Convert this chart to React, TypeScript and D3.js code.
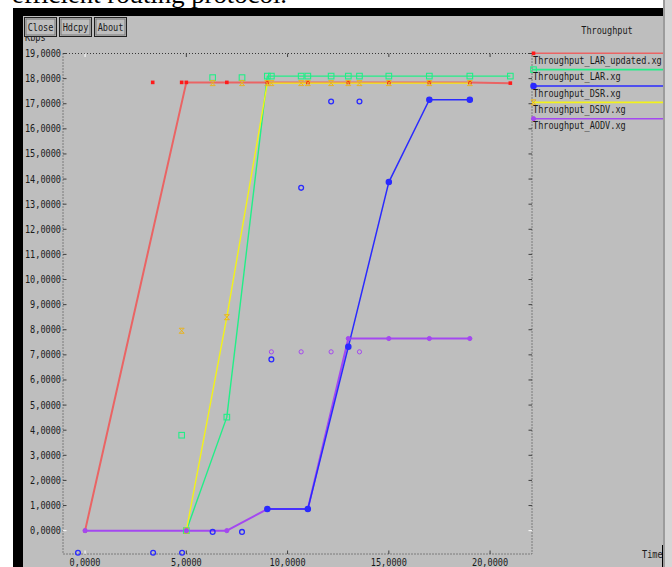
import React from "react";
import * as d3 from "d3";

// ---- data ----
const larUpdatedT = [0, 5, 7, 9, 11, 13, 15, 17, 19, 21];
const larUpdatedV = [0, 17.85, 17.85, 17.85, 17.85, 17.85, 17.85, 17.85, 17.85, 17.82];
const larUpdatedExtraT = [3.34, 4.77];
const larUpdatedExtraV = [17.85, 17.85];

const larT = [5, 7, 9, 9.2, 10.67, 11, 12.15, 13, 13.55, 15, 17, 19, 21];
const larV = [0, 4.52, 18.1, 18.1, 18.1, 18.1, 18.1, 18.1, 18.1, 18.1, 18.1, 18.1, 18.1];
const larExtraT = [4.77, 6.3, 7.75];
const larExtraV = [3.8, 18.04, 18.04];

const dsrT = [9, 11, 13, 15, 17, 19];
const dsrV = [0.86, 0.86, 7.32, 13.88, 17.16, 17.16];
const dsrExtraT = [-0.35, 3.36, 4.79, 6.3, 7.75, 9.2, 10.67, 12.15, 13.55];
const dsrExtraV = [-0.88, -0.88, -0.88, -0.05, -0.05, 6.82, 13.65, 17.09, 17.09];

const dsdvT = [5, 7, 9, 9.2, 10.67, 11, 12.15, 13, 13.55, 15, 17, 19];
const dsdvV = [0, 8.5, 17.82, 17.82, 17.82, 17.82, 17.82, 17.82, 17.82, 17.82, 17.82, 17.82];
const dsdvExtraT = [4.77, 6.3, 7.75];
const dsdvExtraV = [7.96, 17.82, 17.82];

const aodvT = [0, 5, 7, 9, 11, 13, 15, 17, 19];
const aodvV = [0, 0, 0, 0.86, 0.86, 7.65, 7.65, 7.65, 7.65];
const aodvExtraT = [9.2, 10.67, 12.15, 13.55];
const aodvExtraV = [7.12, 7.12, 7.12, 7.12];

const seriesNames = [
  "Throughput_LAR_updated.xg",
  "Throughput_LAR.xg",
  "Throughput_DSR.xg",
  "Throughput_DSDV.xg",
  "Throughput_AODV.xg",
];

const yTickValues = [0, 1, 2, 3, 4, 5, 6, 7, 8, 9, 10, 11, 12, 13, 14, 15, 16, 17, 18, 19];
const xTickValues = [0, 5, 10, 15, 20];

const buttonLabels = ["Close", "Hdcpy", "About"];
const titleText = "Throughput";
const yUnitText = "Kbps";
const xUnitText = "Time";
const captionText = "efficient routing protocol.";

// ---- styles ----
type Marker = "dot" | "square" | "circle" | "hourglass" | "small";
interface Series {
  name: string;
  t: number[];
  v: number[];
  et: number[];
  ev: number[];
  line: string;
  mark: string;
  width: number;
  marker: Marker;
}

const series: Series[] = [
  { name: seriesNames[0], t: larUpdatedT, v: larUpdatedV, et: larUpdatedExtraT, ev: larUpdatedExtraV, line: "#ea6464", mark: "#ff1a1a", width: 2, marker: "dot" },
  { name: seriesNames[1], t: larT, v: larV, et: larExtraT, ev: larExtraV, line: "#22ee88", mark: "#22ee88", width: 1.4, marker: "square" },
  { name: seriesNames[3], t: dsdvT, v: dsdvV, et: dsdvExtraT, ev: dsdvExtraV, line: "#f2f21a", mark: "#e8b420", width: 1.4, marker: "hourglass" },
  { name: seriesNames[4], t: aodvT, v: aodvV, et: aodvExtraT, ev: aodvExtraV, line: "#a448f0", mark: "#a448f0", width: 2, marker: "small" },
  { name: seriesNames[2], t: dsrT, v: dsrV, et: dsrExtraT, ev: dsrExtraV, line: "#2a2aff", mark: "#2a2aff", width: 1.5, marker: "circle" },
];

const legendOrder = [0, 1, 4, 2, 3];

const FONT = "'DejaVu Sans Mono', monospace";
const CW = 5.15;
const fmt = (n: number) => d3.format(".4f")(n).replace(".", ",");

function MarkerShape({ kind, x, y, color, hollow }: { kind: Marker; x: number; y: number; color: string; hollow?: boolean }) {
  if (kind === "dot") return <rect x={x - 1.8} y={y - 1.8} width={3.6} height={3.6} fill={color} />;
  if (kind === "square") return <rect x={x - 2.8} y={y - 2.8} width={5.6} height={5.6} fill="none" stroke={color} strokeWidth={1.1} />;
  if (kind === "circle")
    return <circle cx={x} cy={y} r={hollow ? 2.4 : 2.6} fill={hollow ? "none" : color} stroke={color} strokeWidth={1.3} />;
  if (kind === "hourglass")
    return (
      <path
        d={`M${x - 2.5},${y - 2.5}L${x + 2.5},${y - 2.5}L${x - 2.5},${y + 2.5}L${x + 2.5},${y + 2.5}Z`}
        fill="none"
        stroke={color}
        strokeWidth={1}
      />
    );
  return <circle cx={x} cy={y} r={2.1} fill={hollow ? "none" : color} stroke={color} strokeWidth={1} />;
}

function Txt(props: { x: number; y: number; s: string; anchor?: string; size?: number; fill?: string }) {
  const size = props.size ?? 10;
  return (
    <text
      x={props.x}
      y={props.y}
      textAnchor={props.anchor ?? "start"}
      fontFamily={FONT}
      fontSize={size}
      fill={props.fill ?? "#1a1a1a"}
      textLength={props.s.length * CW}
      lengthAdjust="spacingAndGlyphs"
    >
      {props.s}
    </text>
  );
}

export default function App() {
  const W = 672;
  const H = 567;
  const L = 63, R = 532, T = 53.5, B = 554;
  const x = d3.scaleLinear().domain([-1.09, 22.07]).range([L, R]);
  const y = d3.scaleLinear().domain([-0.93, 19]).range([B, T]);

  const lineGen = d3
    .line<[number, number]>()
    .x((d) => x(d[0]))
    .y((d) => y(d[1]));

  const legendY0 = 53.3;
  const legendStep = 16.35;

  return (
    <div style={{ position: "fixed", left: 0, top: 0, width: W, height: H, background: "#fff" }}>
      <svg width={W} height={H} viewBox={`0 0 ${W} ${H}`} style={{ display: "block" }}>
        <rect x={0} y={0} width={W} height={H} fill="#ffffff" />
        <text x={12} y={3} fontFamily="'Liberation Serif', 'Times New Roman', serif" fontSize={26} fill="#000" textLength={275} lengthAdjust="spacingAndGlyphs">
          {captionText}
        </text>
        {/* window frame */}
        <rect x={13} y={8} width={650} height={H - 8} fill="#000" />
        <rect x={23} y={16} width={640} height={H - 16} fill="#bebebe" />
        <rect x={663} y={0} width={2} height={H} fill="#9c9c9c" />
        <rect x={665} y={0} width={7} height={H} fill="#d6d6d6" />

        {/* unit label partly hidden by buttons */}
        <Txt x={25} y={41} s={yUnitText} />

        {/* buttons */}
        {buttonLabels.map((b, i) => {
          const bx = 24.5 + i * 35;
          return (
            <g key={b}>
              <rect x={bx} y={17.5} width={32} height={19} fill="#bebebe" stroke="#202020" strokeWidth={1} />
              <rect x={bx + 1.5} y={19} width={29} height={16} fill="none" stroke="#7a7a7a" strokeWidth={1} />
              <Txt x={bx + 16} y={30.5} s={b} anchor="middle" />
            </g>
          );
        })}

        {/* title */}
        <Txt x={607} y={34} s={titleText} anchor="middle" />

        {/* frame */}
        <rect x={L} y={T} width={R - L} height={B - T} fill="none" stroke="#383838" strokeWidth={1} strokeDasharray="1 2" />

        {/* y ticks */}
        {yTickValues.map((v) => (
          <g key={"y" + v}>
            <line x1={L} x2={L + 3.5} y1={y(v)} y2={y(v)} stroke={v === 0 ? "#ffffff" : "#404040"} strokeWidth={1} />
            <line x1={R - 3.5} x2={R} y1={y(v)} y2={y(v)} stroke={v === 0 ? "#ffffff" : "#404040"} strokeWidth={1} />
            <Txt x={61} y={y(v) + 3.5} s={fmt(v)} anchor="end" />
          </g>
        ))}
        {/* x ticks */}
        {xTickValues.map((t) => (
          <g key={"x" + t}>
            <line x1={x(t)} x2={x(t)} y1={T} y2={T + 3.5} stroke={t === 0 ? "#ffffff" : "#404040"} strokeWidth={1} />
            <line x1={x(t)} x2={x(t)} y1={B - 3.5} y2={B} stroke={t === 0 ? "#ffffff" : "#404040"} strokeWidth={1} />
            <Txt x={x(t)} y={566} s={fmt(t)} anchor="middle" />
          </g>
        ))}
        <Txt x={642} y={558} s={xUnitText} />
        <line x1={662.5} x2={662.5} y1={545} y2={H} stroke="#000" strokeWidth={1} />

        {/* series lines */}
        {series.map((s) => (
          <path
            key={"l" + s.name}
            d={lineGen(s.t.map((t, i) => [t, s.v[i]] as [number, number])) ?? ""}
            fill="none"
            stroke={s.line}
            strokeWidth={s.width}
            strokeLinejoin="round"
          />
        ))}
        {/* markers */}
        {series.map((s) => (
          <g key={"m" + s.name}>
            {s.t.map((t, i) => (
              <MarkerShape key={i} kind={s.marker} x={x(t)} y={y(s.v[i])} color={s.mark} />
            ))}
            {s.et.map((t, i) => (
              <MarkerShape key={"e" + i} kind={s.marker} x={x(t)} y={y(s.ev[i])} color={s.mark} hollow />
            ))}
          </g>
        ))}

        {/* legend */}
        {legendOrder.map((si, k) => {
          const s = series[si];
          const ly = legendY0 + k * legendStep;
          return (
            <g key={"lg" + k}>
              <line x1={R} x2={663} y1={ly} y2={ly} stroke={s.line} strokeWidth={1.6} />
              <MarkerShape kind={s.marker} x={R + 1.5} y={ly} color={s.mark} />
              <Txt x={R + 1} y={ly + 10.5} s={s.name} />
            </g>
          );
        })}
      </svg>
    </div>
  );
}
